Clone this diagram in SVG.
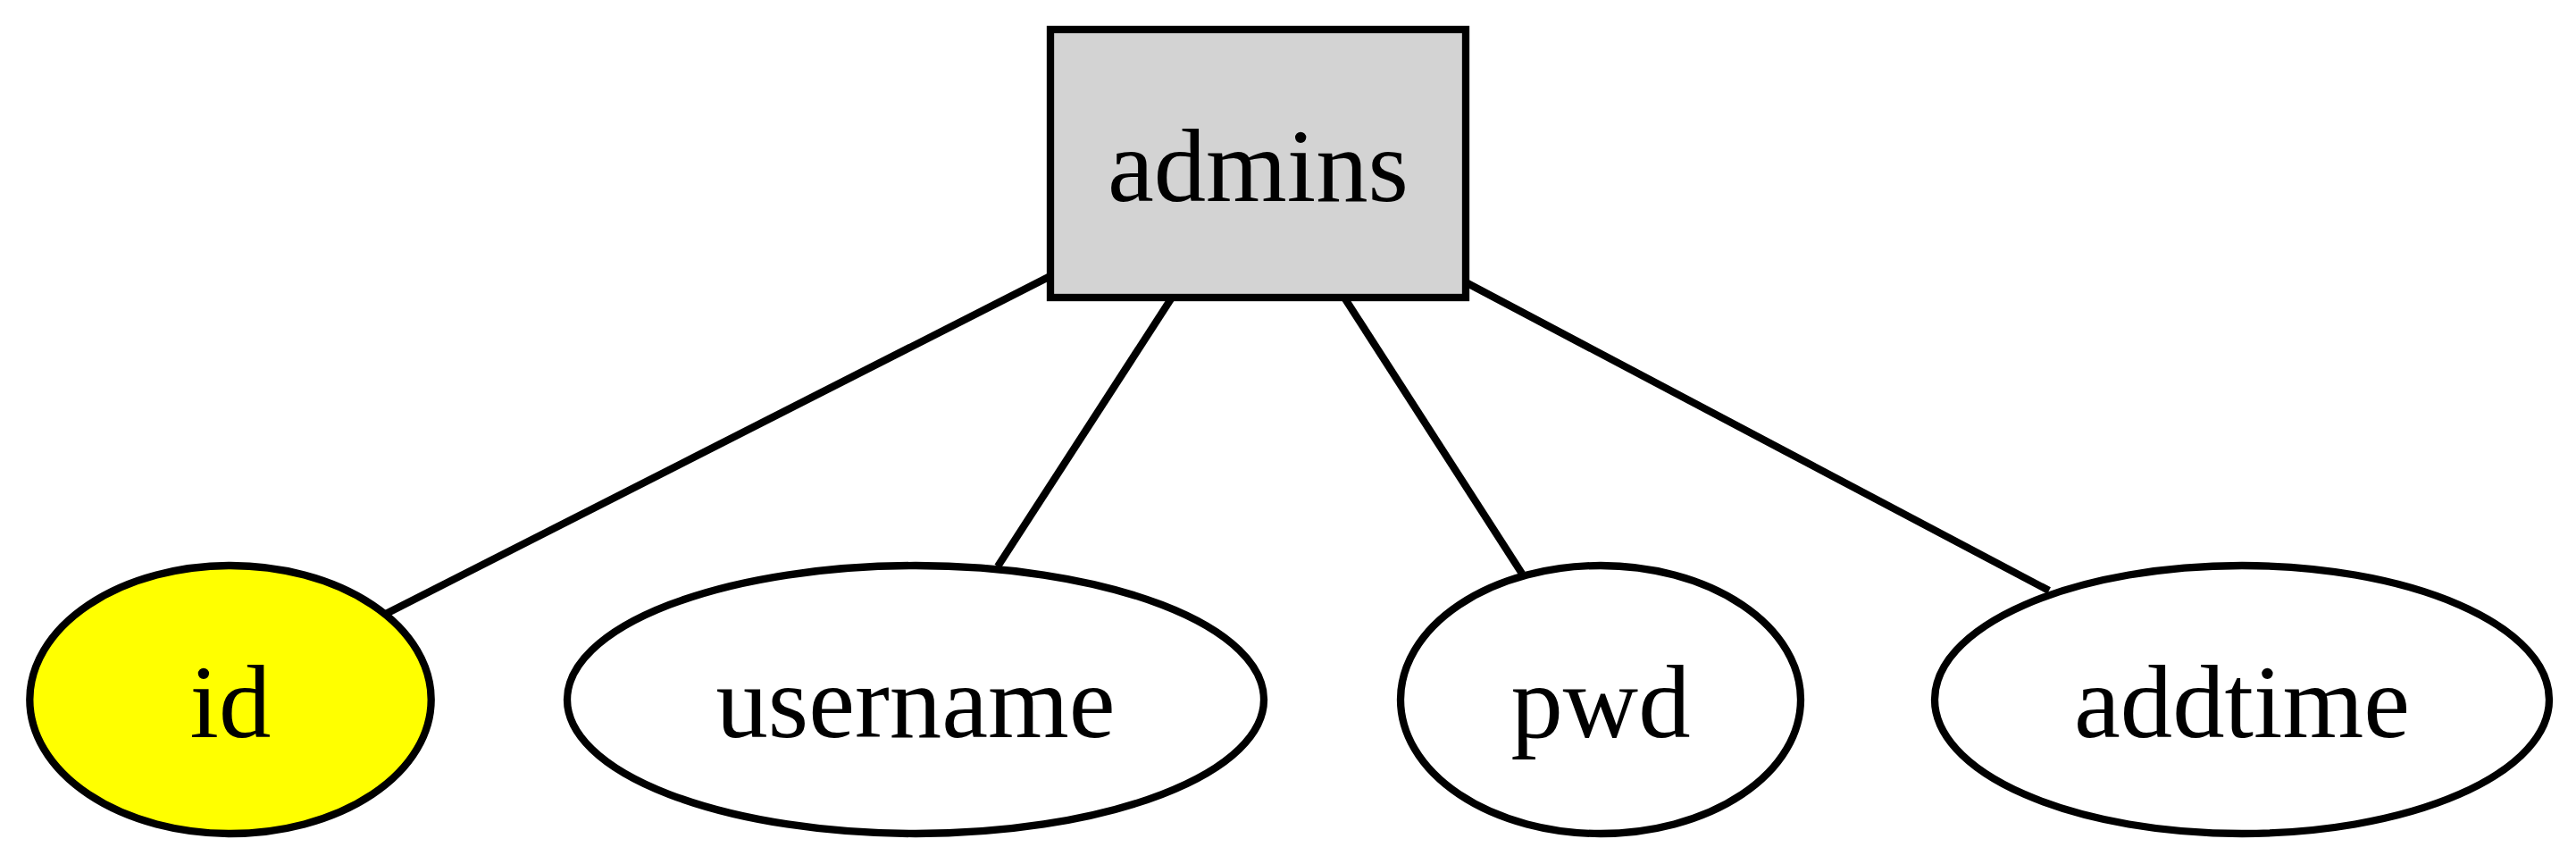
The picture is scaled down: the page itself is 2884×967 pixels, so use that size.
<svg xmlns="http://www.w3.org/2000/svg" width="2884" height="967" viewBox="0 0 2884 967">
<style>
.n{stroke:#000;stroke-width:8.3}
.e{stroke:#000;stroke-width:8.3;fill:none}
text{font-family:"Liberation Serif","Times New Roman",serif;font-size:116.7px;text-anchor:middle;fill:#000}
</style>
<rect width="2884" height="967" fill="#fff"/>
<g id="connectors">
<path class="e" d="M1176,309 L432,687"/>
<path class="e" d="M1312,333 L1117,634"/>
<path class="e" d="M1505,333 L1704,642"/>
<path class="e" d="M1641,316 L2294,661"/>
</g>
<g id="admins">
<rect class="n" x="1176" y="33" width="465" height="300" fill="#d3d3d3"/>
<text x="1408.5" y="225">admins</text>
</g>
<g id="id">
<ellipse class="n" cx="258" cy="783" rx="224.7" ry="150" fill="#ffff00"/>
<text x="258" y="825">id</text>
</g>
<g id="username">
<ellipse class="n" cx="1025" cy="783" rx="390" ry="150" fill="#fff"/>
<text x="1025" y="825">username</text>
</g>
<g id="pwd">
<ellipse class="n" cx="1792" cy="783" rx="224" ry="150" fill="#fff"/>
<text x="1792" y="825">pwd</text>
</g>
<g id="addtime">
<ellipse class="n" cx="2510" cy="783" rx="344" ry="150" fill="#fff"/>
<text x="2510" y="825">addtime</text>
</g>
</svg>
